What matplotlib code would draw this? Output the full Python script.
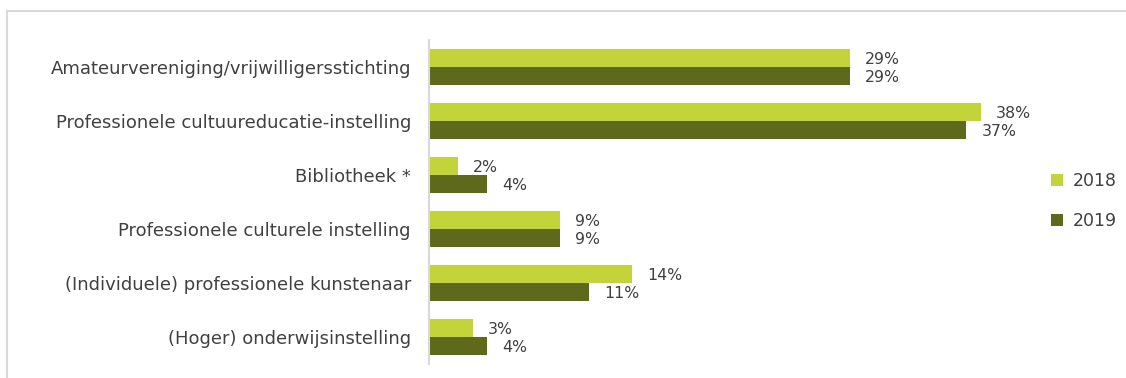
import numpy as np
import matplotlib.pyplot as plt
from matplotlib.lines import Line2D

categories = [
    'Amateurvereniging/vrijwilligersstichting',
    'Professionele cultuureducatie-instelling',
    'Bibliotheek *',
    'Professionele culturele instelling',
    '(Individuele) professionele kunstenaar',
    '(Hoger) onderwijsinstelling',
]
values_2018 = [29, 38, 2, 9, 14, 3]
values_2019 = [29, 37, 4, 9, 11, 4]
years = ['2018', '2019']

light = '#C3D33A'
dark = '#5F691C'
text_color = '#404040'

fig = plt.figure(figsize=(11.26, 3.78), dpi=100)
ax = fig.add_axes([429 / 1126, 1 - 364 / 378, 600 / 1126, 324 / 378])

y = np.arange(len(categories))
h = 0.325
b1 = ax.barh(y - h / 2, values_2018, height=h, color=light, label=years[0])
b2 = ax.barh(y + h / 2, values_2019, height=h, color=dark, label=years[1])

for bars, vals in [(b1, values_2018), (b2, values_2019)]:
    for bar, v in zip(bars, vals):
        ax.annotate(f'{v}%', (bar.get_width(), bar.get_y() + bar.get_height() / 2),
                    xytext=(11, -1), textcoords='offset points', va='center', ha='left',
                    fontsize=11.3, color=text_color)

ax.set_ylim(len(categories) - 0.5, -0.5)
ax.set_xlim(0, 600 / 14.52)
ax.set_yticks(y)
ax.set_yticklabels(categories, fontsize=13, color=text_color)
ax.tick_params(axis='y', length=0, pad=13)
ax.set_xticks([])
for s in ['top', 'right', 'bottom']:
    ax.spines[s].set_visible(False)
ax.spines['left'].set_color('#d9d9d9')
ax.spines['left'].set_linewidth(1.5)

ax.legend(loc='center left', bbox_to_anchor=(1035 / 1126, 1 - 201 / 378), bbox_transform=fig.transFigure,
          frameon=False, fontsize=12.5, handlelength=0.7, handleheight=0.7, labelspacing=1.3,
          handletextpad=0.6, labelcolor=text_color)

# light grey frame around the chart area
fig.add_artist(Line2D([7 / 1126, 1], [1 - 11 / 378] * 2, color='#d9d9d9', lw=1.5))
fig.add_artist(Line2D([7 / 1126] * 2, [0, 1 - 11 / 378], color='#d9d9d9', lw=1.5))

fig.savefig('out.png', dpi=100)
